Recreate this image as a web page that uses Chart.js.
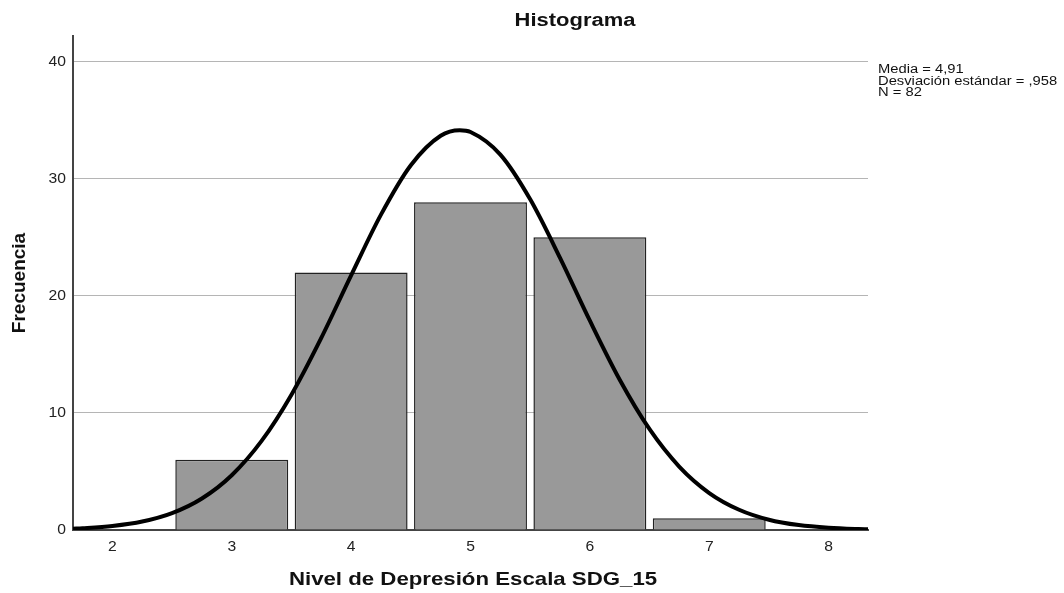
<!DOCTYPE html>
<html>
<head>
<meta charset="utf-8">
<script src="https://cdn.jsdelivr.net/npm/chart.js@4.4.1/dist/chart.umd.min.js"></script>
<style>
  html,body{margin:0;padding:0;background:#fff}
  #wrap{width:1064px;height:593px}
</style>
</head>
<body>
<div id="wrap"><canvas id="c" width="1064" height="593"></canvas></div>
<script>
// Histograma — Nivel de Depresion Escala SDG_15
const binLevels  = [3, 4, 5, 6, 7];
const binCounts  = [6, 22, 28, 25, 1];
// curva normal
const curveX = [1.67,1.75,2,2.25,2.5,2.75,3,3.25,3.5,3.75,4,4.25,4.5,4.75,4.91,5,5.25,5.5,5.75,6,6.25,6.5,6.75,7,7.25,7.5,7.75,8,8.25,8.33];
const curveY = [0.11,0.15,0.34,0.72,1.44,2.69,4.68,7.61,11.56,16.41,21.75,26.94,31.16,33.68,34.15,34.0,32.07,28.25,23.25,17.88,12.84,8.61,5.4,3.16,1.73,0.88,0.42,0.19,0.08,0.06];
const yTicks = [0, 10, 20, 30, 40];
const xTicks = [2, 3, 4, 5, 6, 7, 8];
const statLines = ['Media = 4,91', 'Desviación estándar = ,958', 'N = 82'];

const FONT = "'Liberation Sans', Arial, sans-serif";

// texto estirado en horizontal, como en la imagen original
function sText(ctx, txt, x, y, sx){
  ctx.save();
  ctx.translate(x, y);
  ctx.scale(sx, 1);
  ctx.fillText(txt, 0, 0);
  ctx.restore();
}

const textPlugin = {
  id: 'textos',
  afterDraw(chart){
    const ctx = chart.ctx, a = chart.chartArea;
    const xs = chart.scales.x, ys = chart.scales.y;
    ctx.save();
    ctx.fillStyle = '#111';
    ctx.textBaseline = 'middle';
    ctx.textAlign = 'center';
    ctx.font = 'bold 18px ' + FONT;
    sText(ctx, 'Histograma', 575, 21, 1.22);
    ctx.font = 'bold 19px ' + FONT;
    sText(ctx, 'Nivel de Depresión Escala SDG_15', 473, 580, 1.17);
    ctx.save();
    ctx.translate(20, 283);
    ctx.rotate(-Math.PI/2);
    ctx.font = 'bold 19px ' + FONT;
    ctx.fillText('Frecuencia', 0, 0);
    ctx.restore();

    // etiquetas de los ejes
    ctx.fillStyle = '#222';
    ctx.font = '14px ' + FONT;
    xTicks.forEach(v=>sText(ctx, String(v), xs.getPixelForValue(v), 547, 1.12));
    ctx.textAlign = 'right';
    yTicks.forEach(v=>sText(ctx, String(v), a.left - 7, ys.getPixelForValue(v), 1.12));

    ctx.fillStyle = '#111';
    ctx.textAlign = 'left';
    ctx.font = '12.5px ' + FONT;
    statLines.forEach((s,i)=>sText(ctx, s, a.right + 10, 70 + i*11.5, 1.18));
    ctx.restore();
  }
};

new Chart(document.getElementById('c'), {
  data: {
    datasets: [
      {
        type: 'line',
        data: curveX.map((x,i)=>({x, y: curveY[i]})),
        borderColor: '#000', borderWidth: 4,
        pointRadius: 0, cubicInterpolationMode: 'monotone', fill: false, order: 0
      },
      {
        type: 'bar',
        data: binLevels.map((x,i)=>({x, y: binCounts[i]})),
        backgroundColor: '#999999', borderColor: '#222', borderWidth: 1.5,
        categoryPercentage: 1, barPercentage: 0.946, order: 1
      }
    ]
  },
  options: {
    responsive: false, animation: false,
    layout: { padding: { left: 0, right: 196, top: 36, bottom: 0 } },
    plugins: { legend: { display: false }, tooltip: { enabled: false }, title: { display: false } },
    scales: {
      x: {
        type: 'linear', min: 1.67, max: 8.33, offset: false,
        afterBuildTicks: s => { s.ticks = xTicks.map(v=>({value:v})); },
        afterFit: s => { s.height = 63; },
        grid: { display: false, drawTicks: false, offset: false },
        border: { display: true, color: '#444', width: 2 },
        ticks: { display: false }
      },
      y: {
        type: 'linear', min: 0, max: 42.2,
        afterBuildTicks: s => { s.ticks = yTicks.map(v=>({value:v})); },
        afterFit: s => { s.width = 73; },
        grid: { color: c => c.tick && c.tick.value === 0 ? 'rgba(0,0,0,0)' : '#b5b5b5', lineWidth: 1, drawTicks: false },
        border: { display: true, color: '#444', width: 2 },
        ticks: { display: false }
      }
    }
  },
  plugins: [textPlugin]
});
</script>
</body>
</html>
